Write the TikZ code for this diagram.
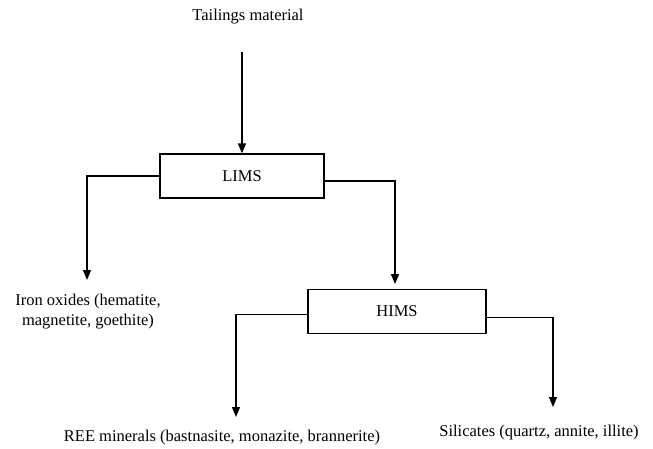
\documentclass[tikz,border=0pt]{standalone}
\usepackage{fontspec}
\setmainfont{Liberation Serif}
\usetikzlibrary{arrows.meta}

\begin{document}
\begin{tikzpicture}[x=1pt,y=-1pt,>={Triangle[length=10pt,width=8pt]},
  unit/.style={draw,line width=1.3pt,minimum width=#1,minimum height=44pt,inner sep=0pt},
  flow/.style={->,line width=1.3pt},
  txt/.style={align=center,inner sep=0pt,font=\fontsize{16.5}{20}\selectfont}]
\useasboundingbox (0,0) rectangle (653,448);
\node[txt] (tail) at (248,17) {Tailings material};
\node[unit=164pt,txt] (lims) at (242,176) {LIMS};
\node[txt] (iron) at (88,312) {Iron oxides (hematite,\\magnetite, goethite)};
\node[unit=178pt,txt] (hims) at (397,311.5) {HIMS};
\node[txt] (ree) at (222,438) {REE minerals (bastnasite, monazite, brannerite)};
\node[txt] (sil) at (539,433) {Silicates (quartz, annite, illite)};
\coordinate (feed) at (242,52);
\coordinate (ironin) at (87,280);
\coordinate (limsout) at ([yshift=-5pt]lims.east);
\coordinate (himsin) at (395,284);
\coordinate (reein) at (236,417);
\coordinate (himsout) at ([yshift=-6pt]hims.east);
\coordinate (silin) at (553,407);
\draw[flow] (feed) -- (lims.north);
\draw[flow] (lims.west) -| (ironin);
\draw[flow] (limsout) -| (himsin);
\draw[flow] ([yshift=-3pt]hims.west) -| (reein);
\draw[flow] (himsout) -| (silin);
\end{tikzpicture}
\end{document}
